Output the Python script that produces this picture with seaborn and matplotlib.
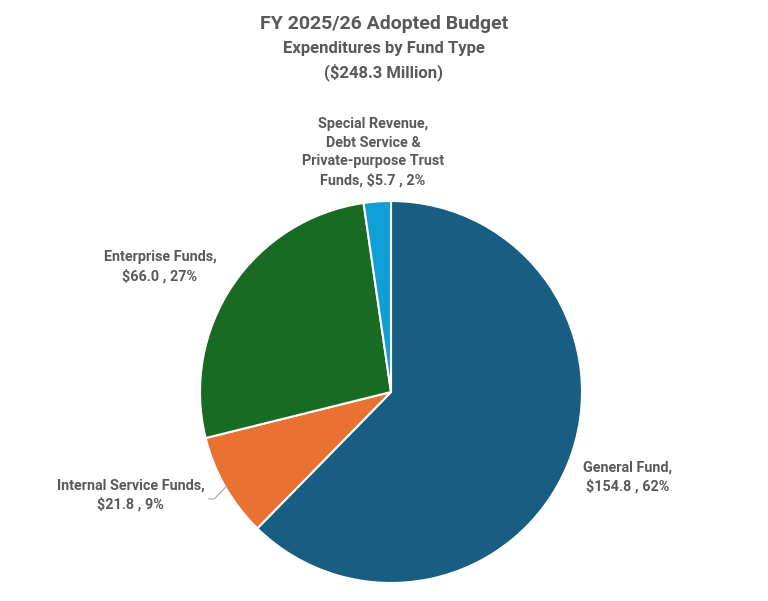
import numpy as np
import matplotlib
matplotlib.use("Agg")
import matplotlib.pyplot as plt
import seaborn as sns

# data
funds = ["General Fund", "Internal Service Funds", "Enterprise Funds",
         "Special Revenue,\nDebt Service &\nPrivate-purpose Trust\nFunds"]
amounts = [154.8, 21.8, 66.0, 5.7]
shares = [62, 9, 27, 2]
colors = ["#175E82", "#E97132", "#196B24", "#0F9ED5"]

sns.set_theme(style="white")
plt.rcParams['font.family'] = ['Roboto', 'DejaVu Sans']
text_color = "#595959"

W, H = 768, 601
cx, cy, r = 391, 392, 191
fig = plt.figure(figsize=(W / 100, H / 100), dpi=100)
ax = fig.add_axes([0, 0, 1, 1])

wedges, _ = ax.pie(amounts, colors=colors, startangle=90, counterclock=False,
                   wedgeprops=dict(edgecolor="white", linewidth=1.5))
ax.set_xlim(-cx / r, (W - cx) / r)
ax.set_ylim(-(H - cy) / r, cy / r)
ax.set_aspect("auto")
ax.axis("off")

# label placement (pie units), per slice
label_pos = [(1.24, -0.445, "center"), (-0.975, -0.54, "right"),
             (-1.21, 0.655, "center"), (-0.094, 1.255, "center")]
for name, amt, pct, (lx, ly, ha) in zip(funds, amounts, shares, label_pos):
    if name.startswith("Special"):
        txt = f"{name}, ${amt:.1f} , {pct}%"
    else:
        txt = f"{name},\n${amt:.1f} , {pct}%"
    ax.text(lx, ly, txt, ha=ha, va="center", multialignment="center",
            fontsize=10.4, fontweight="bold", color=text_color, linespacing=1.45)

# leader line for the small orange slice
ang = np.deg2rad(90 - 360 * (amounts[0] + amounts[1] / 2) / sum(amounts))
ex, ey = np.cos(ang), np.sin(ang)
ax.plot([-0.955, -0.925, ex * 0.99], [-0.56, -0.56, ey * 0.99],
        color="#A6A6A6", linewidth=0.8)

fig.text(0.5, 1 - 24 / H, "FY 2025/26 Adopted Budget", ha="center", va="center",
         fontsize=14, fontweight="bold", color=text_color)
fig.text(0.5, 1 - 48 / H, "Expenditures by Fund Type", ha="center", va="center",
         fontsize=12, fontweight="bold", color=text_color)
fig.text(0.5, 1 - 72 / H, "($248.3 Million)", ha="center", va="center",
         fontsize=12, fontweight="bold", color=text_color)

fig.savefig("out.png", dpi=100)
